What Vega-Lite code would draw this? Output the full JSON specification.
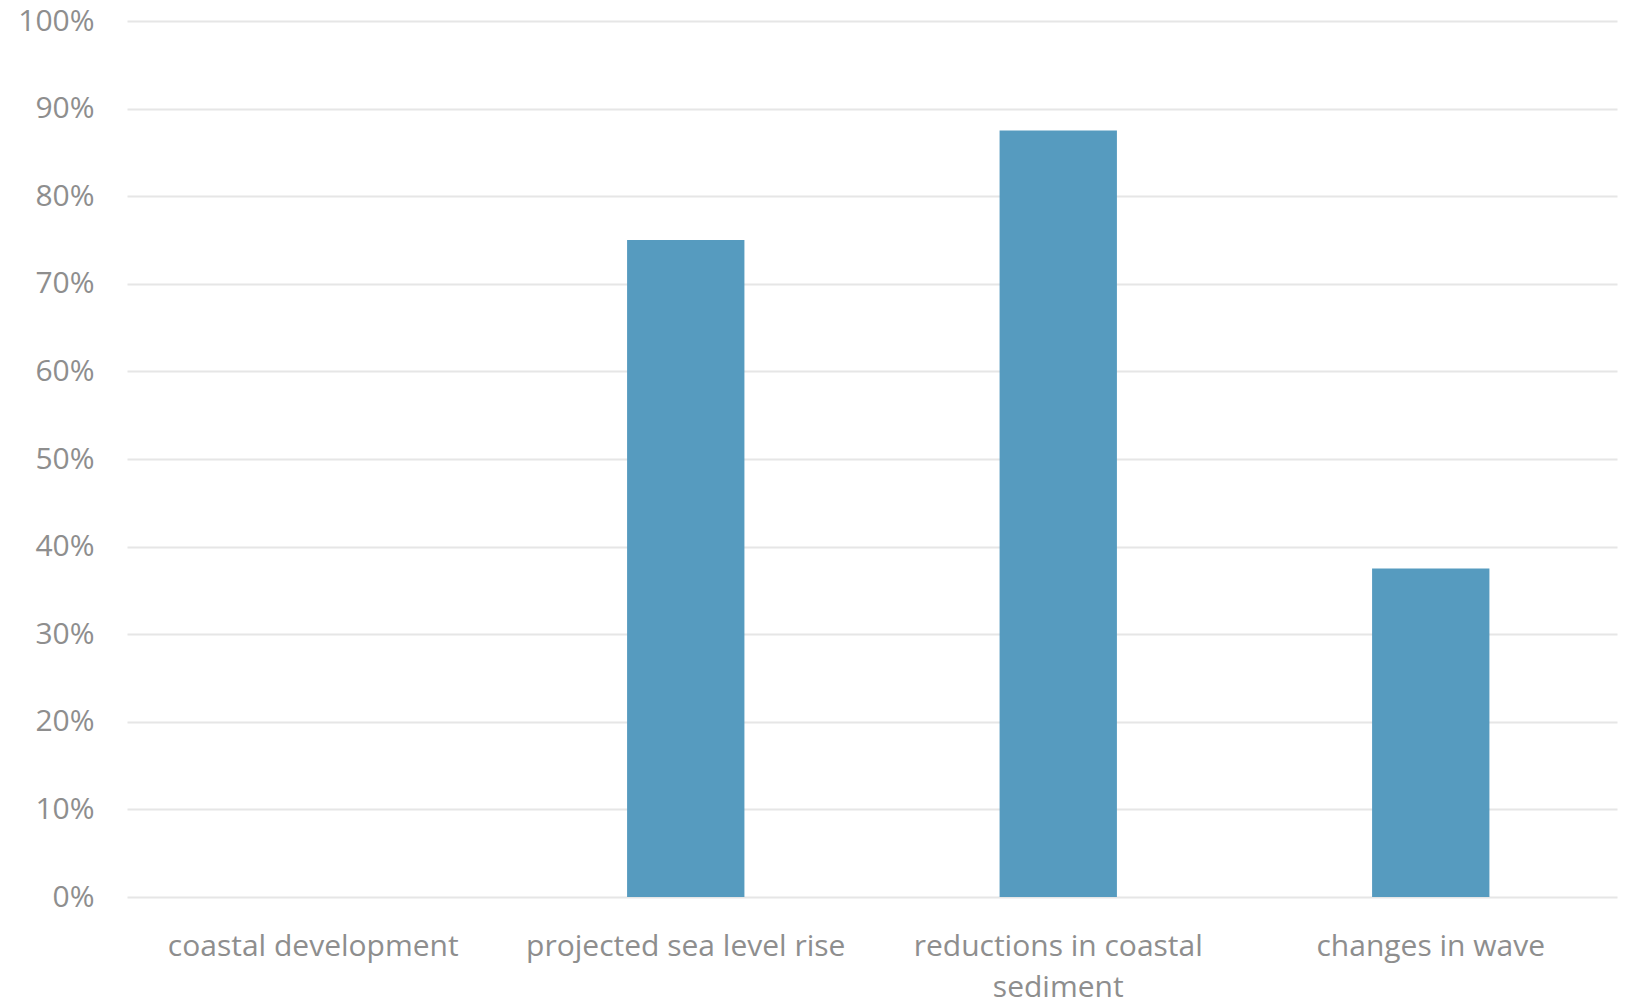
{
  "$schema": "https://vega.github.io/schema/vega-lite/v6.json",
  "autosize": "none",
  "padding": {"left": 127, "top": 21, "right": 8, "bottom": 104},
  "width": 1490,
  "height": 876,
  "background": "white",
  "config": {
    "view": {"stroke": null},
    "font": "Open Sans"
  },
  "data": {
    "values": [
      {"factor": "coastal development", "share": 0},
      {"factor": "projected sea level rise", "share": 0.75},
      {"factor": "reductions in coastal sediment", "share": 0.875},
      {"factor": "changes in wave", "share": 0.375}
    ]
  },
  "mark": {"type": "bar", "color": "#569bbf"},
  "encoding": {
    "x": {
      "field": "factor",
      "type": "nominal",
      "sort": null,
      "title": null,
      "scale": {"paddingInner": 0.685, "paddingOuter": 0.3425},
      "axis": {
        "domain": false,
        "ticks": false,
        "tickSize": 0,
        "labelAngle": 0,
        "labelPadding": 34,
        "labelFont": "Open Sans",
        "labelFontSize": 30,
        "labelColor": "#8e8e8e",
        "labelLineHeight": 41,
        "labelLimit": 400,
        "labelExpr": "datum.value == 'reductions in coastal sediment' ? ['reductions in coastal', 'sediment'] : datum.label"
      }
    },
    "y": {
      "field": "share",
      "type": "quantitative",
      "title": null,
      "scale": {"domain": [0, 1], "nice": false},
      "axis": {
        "values": [0, 0.1, 0.2, 0.3, 0.4, 0.5, 0.6, 0.7, 0.8, 0.9, 1],
        "format": ".0%",
        "domain": false,
        "ticks": false,
        "tickSize": 0,
        "labelPadding": 33,
        "labelFont": "Open Sans",
        "labelFontSize": 30,
        "labelColor": "#8e8e8e",
        "grid": true,
        "gridColor": "#e6e6e6",
        "gridWidth": 2
      }
    }
  }
}
